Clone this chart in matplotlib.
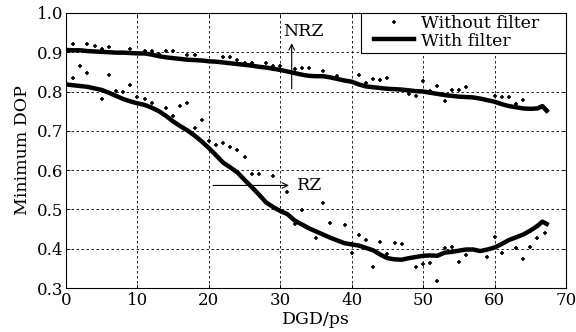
import numpy as np
import matplotlib.pyplot as plt
from matplotlib.patches import Rectangle

plt.rcParams['font.family'] = ['DejaVu Serif']

# NRZ, with filter
nrz_x = [0, 1, 2, 3, 4, 5, 6, 7, 8, 9, 10, 11, 12, 13, 14, 15, 16, 17, 18, 19,
         20, 21, 22, 23, 24, 25, 26, 27, 28, 29, 30, 31, 32, 33, 34, 35, 36, 37,
         38, 39, 40, 41, 42, 43, 44, 45, 46, 47, 48, 49, 50, 51, 52, 53, 54, 55,
         56, 57, 58, 59, 60, 61, 62, 63, 64, 65, 66, 66.7, 67.3]
nrz_y = [0.906, 0.905, 0.905, 0.903, 0.902, 0.901, 0.900, 0.899, 0.899, 0.898,
         0.897, 0.897, 0.894, 0.890, 0.887, 0.885, 0.883, 0.881, 0.880, 0.879,
         0.877, 0.876, 0.874, 0.872, 0.870, 0.868, 0.866, 0.863, 0.861, 0.858,
         0.855, 0.851, 0.847, 0.843, 0.840, 0.839, 0.839, 0.836, 0.832, 0.828,
         0.825, 0.818, 0.813, 0.811, 0.809, 0.807, 0.806, 0.805, 0.803, 0.801,
         0.800, 0.797, 0.794, 0.791, 0.789, 0.787, 0.786, 0.785, 0.782, 0.778,
         0.774, 0.768, 0.763, 0.760, 0.757, 0.756, 0.757, 0.763, 0.751]

# RZ, with filter
rz_x = nrz_x
rz_y = [0.818, 0.816, 0.814, 0.812, 0.808, 0.804, 0.797, 0.789, 0.781, 0.775,
        0.770, 0.766, 0.759, 0.750, 0.738, 0.724, 0.712, 0.701, 0.688, 0.673,
        0.656, 0.638, 0.619, 0.607, 0.594, 0.575, 0.557, 0.538, 0.518, 0.506,
        0.496, 0.488, 0.472, 0.462, 0.452, 0.444, 0.436, 0.428, 0.421, 0.414,
        0.411, 0.408, 0.402, 0.396, 0.385, 0.376, 0.373, 0.372, 0.376, 0.379,
        0.382, 0.383, 0.382, 0.390, 0.392, 0.395, 0.398, 0.398, 0.394, 0.398,
        0.403, 0.412, 0.422, 0.429, 0.436, 0.446, 0.458, 0.469, 0.463]

# without filter, NRZ points
nrz_raw_x = [1, 3, 4, 5, 6, 9, 11, 12, 13, 14, 15, 17, 18, 22, 23, 24, 25, 26,
             28, 29, 30, 32, 33, 34, 36, 38, 41, 42, 43, 44, 45, 48, 49, 50,
             51, 52, 53, 54, 55, 56, 60, 61, 62, 63, 64, 66.6, 67.3]
nrz_raw_y = [0.921, 0.922, 0.915, 0.908, 0.913, 0.908, 0.902, 0.902, 0.896,
             0.903, 0.903, 0.892, 0.892, 0.888, 0.887, 0.879, 0.872, 0.872,
             0.872, 0.866, 0.866, 0.858, 0.861, 0.861, 0.851, 0.840, 0.843,
             0.821, 0.833, 0.829, 0.834, 0.794, 0.788, 0.827, 0.802, 0.813,
             0.775, 0.805, 0.805, 0.812, 0.789, 0.787, 0.787, 0.768, 0.779,
             0.760, 0.753]

# without filter, RZ points
rz_raw_x = [1, 2, 3, 5, 6, 7, 8, 9, 10, 11, 12, 14, 15, 16, 17, 18, 19, 20, 21,
            22, 23, 24, 25, 26, 27, 29, 31, 32, 33, 35, 36, 37, 39, 40, 41, 42,
            43, 44, 45, 46, 47, 49, 50, 51, 52, 53, 54, 55, 56, 59, 60, 61, 63,
            64, 65, 66, 67]
rz_raw_y = [0.835, 0.866, 0.847, 0.780, 0.842, 0.802, 0.800, 0.817, 0.787,
            0.781, 0.772, 0.759, 0.738, 0.763, 0.770, 0.708, 0.728, 0.675,
            0.664, 0.668, 0.660, 0.651, 0.634, 0.591, 0.589, 0.585, 0.545,
            0.463, 0.499, 0.428, 0.516, 0.465, 0.461, 0.389, 0.435, 0.422,
            0.353, 0.417, 0.386, 0.414, 0.412, 0.353, 0.362, 0.363, 0.318,
            0.403, 0.405, 0.365, 0.383, 0.380, 0.430, 0.388, 0.403, 0.373,
            0.404, 0.427, 0.441]

fig = plt.figure(figsize=(5.76, 3.32), dpi=100)
ax = fig.add_axes([0.1146, 0.1325, 0.868, 0.8285])

ax.plot(nrz_raw_x, nrz_raw_y, '+', color='black', ms=3.3, mew=1.2,
        label='Without filter')
ax.plot(rz_raw_x, rz_raw_y, '+', color='black', ms=3.3, mew=1.2)
ax.plot(nrz_x, nrz_y, '-', color='black', lw=3.2, label='With filter')
ax.plot(rz_x, rz_y, '-', color='black', lw=3.2)

ax.set_xlim(0, 70)
ax.set_ylim(0.3, 1.0)
ax.set_xticks(np.arange(0, 71, 10))
ax.set_yticks(np.arange(0.3, 1.01, 0.1))
ax.set_yticklabels(['%.1f' % v for v in np.arange(0.3, 1.01, 0.1)])
ax.tick_params(direction='in', length=3, width=0.6, labelsize=12, pad=2,
               top=True, right=True)
ax.tick_params(axis='x', pad=3)
ax.grid(True, color='black', linestyle=(0, (3, 3)), linewidth=0.6)
for s in ax.spines.values():
    s.set_linewidth(0.8)

ax.set_xlabel('DGD/ps', fontsize=12.5, labelpad=1)
ax.set_ylabel('Minimum DOP', fontsize=12.5, labelpad=4)

ax.annotate('', xy=(31.6, 0.93), xytext=(31.6, 0.8),
            arrowprops=dict(arrowstyle='->', lw=0.8, color='black'))
ax.text(33.2, 0.952, 'NRZ', fontsize=12.5, ha='center', va='center')
ax.annotate('', xy=(31.6, 0.561), xytext=(20.2, 0.561),
            arrowprops=dict(arrowstyle='->', lw=0.8, color='black'))
ax.text(32.3, 0.561, 'RZ', fontsize=12.5, ha='left', va='center')

# legend box, wider than the entries like in the original
box = Rectangle((0.59, 0.855), 0.41, 0.145, transform=ax.transAxes,
                facecolor='white', edgecolor='black', lw=0.8, zorder=4)
ax.add_patch(box)
leg = ax.legend(loc='upper left', bbox_to_anchor=(0.612, 1.0), fontsize=12.5,
                frameon=False, borderaxespad=0, handlelength=2.3,
                handletextpad=0.4, borderpad=0.1, labelspacing=0.05)
leg.set_zorder(5)

fig.savefig('out.png', dpi=100)
